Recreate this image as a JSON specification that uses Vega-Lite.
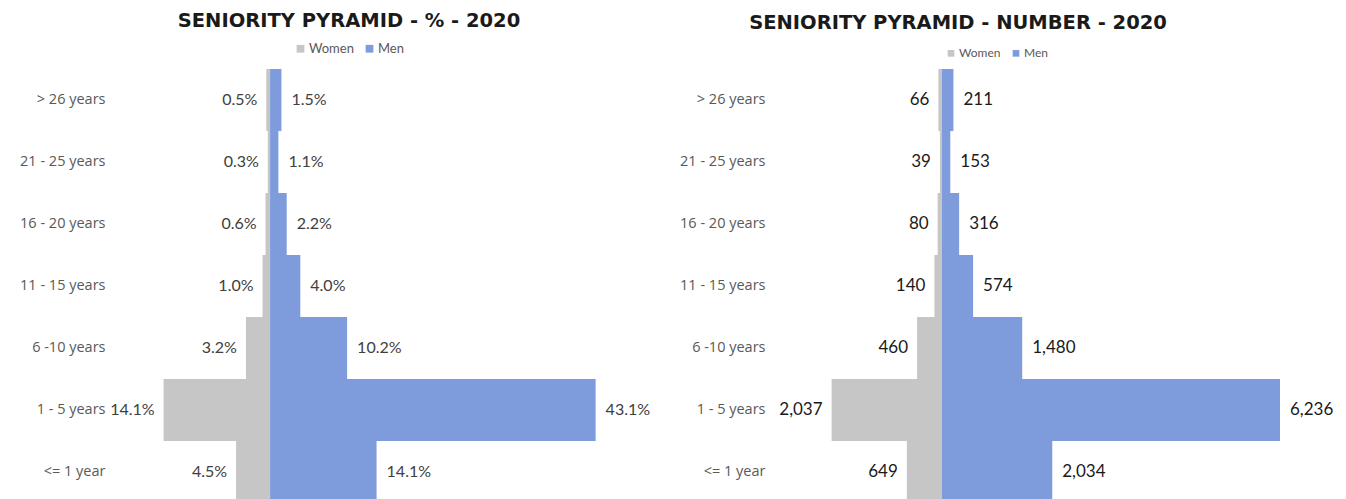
{
  "$schema": "https://vega.github.io/schema/vega-lite/v6.json",
  "background": "white",
  "padding": {"left": 19, "top": 11, "right": 0, "bottom": 0},
  "datasets": {
    "pct": [
      {"seniority": "> 26 years", "gender": "Women", "value": 0.005},
      {"seniority": "21 - 25 years", "gender": "Women", "value": 0.003},
      {"seniority": "16 - 20 years", "gender": "Women", "value": 0.006},
      {"seniority": "11 - 15 years", "gender": "Women", "value": 0.010},
      {"seniority": "6 -10 years", "gender": "Women", "value": 0.032},
      {"seniority": "1 - 5 years", "gender": "Women", "value": 0.141},
      {"seniority": "<= 1 year", "gender": "Women", "value": 0.045},
      {"seniority": "> 26 years", "gender": "Men", "value": 0.015},
      {"seniority": "21 - 25 years", "gender": "Men", "value": 0.011},
      {"seniority": "16 - 20 years", "gender": "Men", "value": 0.022},
      {"seniority": "11 - 15 years", "gender": "Men", "value": 0.040},
      {"seniority": "6 -10 years", "gender": "Men", "value": 0.102},
      {"seniority": "1 - 5 years", "gender": "Men", "value": 0.431},
      {"seniority": "<= 1 year", "gender": "Men", "value": 0.141}
    ],
    "num": [
      {"seniority": "> 26 years", "gender": "Women", "value": 66},
      {"seniority": "21 - 25 years", "gender": "Women", "value": 39},
      {"seniority": "16 - 20 years", "gender": "Women", "value": 80},
      {"seniority": "11 - 15 years", "gender": "Women", "value": 140},
      {"seniority": "6 -10 years", "gender": "Women", "value": 460},
      {"seniority": "1 - 5 years", "gender": "Women", "value": 2037},
      {"seniority": "<= 1 year", "gender": "Women", "value": 649},
      {"seniority": "> 26 years", "gender": "Men", "value": 211},
      {"seniority": "21 - 25 years", "gender": "Men", "value": 153},
      {"seniority": "16 - 20 years", "gender": "Men", "value": 316},
      {"seniority": "11 - 15 years", "gender": "Men", "value": 574},
      {"seniority": "6 -10 years", "gender": "Men", "value": 1480},
      {"seniority": "1 - 5 years", "gender": "Men", "value": 6236},
      {"seniority": "<= 1 year", "gender": "Men", "value": 2034}
    ]
  },
  "spacing": 28,
  "resolve": {"scale": {"color": "independent"}, "legend": {"color": "independent"}},
  "hconcat": [
    {
      "title": {"text": "SENIORITY PYRAMID - % - 2020", "font": "DejaVu Sans", "fontSize": 19.5, "fontWeight": "bold", "color": "#1a1a1a", "anchor": "middle", "frame": "group", "dx": -36, "offset": 10.5},
      "width": 530,
      "height": 434,
      "data": {"name": "pct"},
      "encoding": {
        "y": {
          "field": "seniority", "type": "nominal",
          "sort": ["> 26 years", "21 - 25 years", "16 - 20 years", "11 - 15 years", "6 -10 years", "1 - 5 years", "<= 1 year"],
          "scale": {"paddingInner": 0, "paddingOuter": 0},
          "axis": {"title": null, "domain": false, "ticks": false, "labelFont": "Open Sans", "labelFontSize": 14.5, "labelColor": "#595959", "labelPadding": 15}
        }
      },
      "layer": [
        {
          "transform": [{"filter": "datum.gender == 'Women'"}],
          "encoding": {
            "x": {"field": "value", "type": "quantitative", "scale": {"domain": [-0.503, 0.1987], "reverse": true, "nice": false, "zero": false}, "axis": null}
          },
          "layer": [
            {
              "mark": {"type": "bar", "strokeWidth": 0},
              "encoding": {
                "x2": {"datum": 0},
                "color": {"field": "gender", "type": "nominal", "scale": {"domain": ["Women", "Men"], "range": ["#C6C6C6", "#7E9CDC"]},
                  "legend": {"orient": "none", "legendX": 174, "legendY": -27, "direction": "horizontal", "title": null, "symbolType": "square", "symbolSize": 60, "labelFont": "Lato", "labelFontSize": 13, "labelColor": "#595959", "columnPadding": 8, "labelOffset": 2,
                    "encode": {"symbols": {"update": {"fill": {"signal": "datum.value == 'Men' ? '#4472C4' : '#A5A5A5'"}}}}}}
              }
            },
            {
              "mark": {"type": "text", "align": "right", "baseline": "middle", "dx": -9, "font": "Lato", "fontSize": 16, "color": "#404040"},
              "encoding": {"text": {"field": "value", "type": "quantitative", "format": ".1%"}}
            }
          ]
        },
        {
          "transform": [{"filter": "datum.gender == 'Men'"}],
          "encoding": {
            "x": {"field": "value", "type": "quantitative", "scale": {"domain": [-0.1987, 0.503], "nice": false, "zero": false}, "axis": null}
          },
          "layer": [
            {
              "mark": {"type": "bar", "strokeWidth": 0},
              "encoding": {
                "x2": {"datum": 0},
                "color": {"field": "gender", "type": "nominal", "scale": {"domain": ["Women", "Men"], "range": ["#C6C6C6", "#7E9CDC"]},
                  "legend": {"orient": "none", "legendX": 174, "legendY": -27, "direction": "horizontal", "title": null, "symbolType": "square", "symbolSize": 60, "labelFont": "Lato", "labelFontSize": 13, "labelColor": "#595959", "columnPadding": 8, "labelOffset": 2,
                    "encode": {"symbols": {"update": {"fill": {"signal": "datum.value == 'Men' ? '#4472C4' : '#A5A5A5'"}}}}}}
              }
            },
            {
              "mark": {"type": "text", "align": "left", "baseline": "middle", "dx": 10, "font": "Lato", "fontSize": 16, "color": "#404040"},
              "encoding": {"text": {"field": "value", "type": "quantitative", "format": ".1%"}}
            }
          ]
        }
      ],
      "resolve": {"scale": {"x": "independent"}}
    },
    {
      "title": {"text": "SENIORITY PYRAMID - NUMBER - 2020", "font": "DejaVu Sans", "fontSize": 19.5, "fontWeight": "bold", "color": "#1a1a1a", "anchor": "middle", "frame": "group", "dx": -102, "offset": 13.5},
      "width": 560,
      "height": 434,
      "data": {"name": "num"},
      "encoding": {
        "y": {
          "field": "seniority", "type": "nominal",
          "sort": ["> 26 years", "21 - 25 years", "16 - 20 years", "11 - 15 years", "6 -10 years", "1 - 5 years", "<= 1 year"],
          "scale": {"paddingInner": 0, "paddingOuter": 0},
          "axis": {"title": null, "domain": false, "ticks": false, "labelFont": "Open Sans", "labelFontSize": 14.5, "labelColor": "#595959", "labelPadding": 15}
        }
      },
      "layer": [
        {
          "transform": [{"filter": "datum.gender == 'Women'"}],
          "encoding": {
            "x": {"field": "value", "type": "quantitative", "scale": {"domain": [-7343, 2989], "reverse": true, "nice": false, "zero": false}, "axis": null}
          },
          "layer": [
            {
              "mark": {"type": "bar", "strokeWidth": 0},
              "encoding": {
                "x2": {"datum": 0},
                "color": {"field": "gender", "type": "nominal", "scale": {"domain": ["Women", "Men"], "range": ["#C6C6C6", "#7E9CDC"]},
                  "legend": {"orient": "none", "legendX": 165, "legendY": -22, "direction": "horizontal", "title": null, "symbolType": "square", "symbolSize": 45, "labelFont": "Lato", "labelFontSize": 12, "labelColor": "#595959", "columnPadding": 8, "labelOffset": 2,
                    "encode": {"symbols": {"update": {"fill": {"signal": "datum.value == 'Men' ? '#4472C4' : '#A5A5A5'"}}}}}}
              }
            },
            {
              "mark": {"type": "text", "align": "right", "baseline": "middle", "dx": -9, "font": "Lato", "fontSize": 17, "color": "#1a1a1a"},
              "encoding": {"text": {"field": "value", "type": "quantitative", "format": ","}}
            }
          ]
        },
        {
          "transform": [{"filter": "datum.gender == 'Men'"}],
          "encoding": {
            "x": {"field": "value", "type": "quantitative", "scale": {"domain": [-2989, 7343], "nice": false, "zero": false}, "axis": null}
          },
          "layer": [
            {
              "mark": {"type": "bar", "strokeWidth": 0},
              "encoding": {
                "x2": {"datum": 0},
                "color": {"field": "gender", "type": "nominal", "scale": {"domain": ["Women", "Men"], "range": ["#C6C6C6", "#7E9CDC"]},
                  "legend": {"orient": "none", "legendX": 165, "legendY": -22, "direction": "horizontal", "title": null, "symbolType": "square", "symbolSize": 45, "labelFont": "Lato", "labelFontSize": 12, "labelColor": "#595959", "columnPadding": 8, "labelOffset": 2,
                    "encode": {"symbols": {"update": {"fill": {"signal": "datum.value == 'Men' ? '#4472C4' : '#A5A5A5'"}}}}}}
              }
            },
            {
              "mark": {"type": "text", "align": "left", "baseline": "middle", "dx": 10, "font": "Lato", "fontSize": 17, "color": "#1a1a1a"},
              "encoding": {"text": {"field": "value", "type": "quantitative", "format": ","}}
            }
          ]
        }
      ],
      "resolve": {"scale": {"x": "independent"}}
    }
  ],
  "config": {"view": {"stroke": null}}
}
